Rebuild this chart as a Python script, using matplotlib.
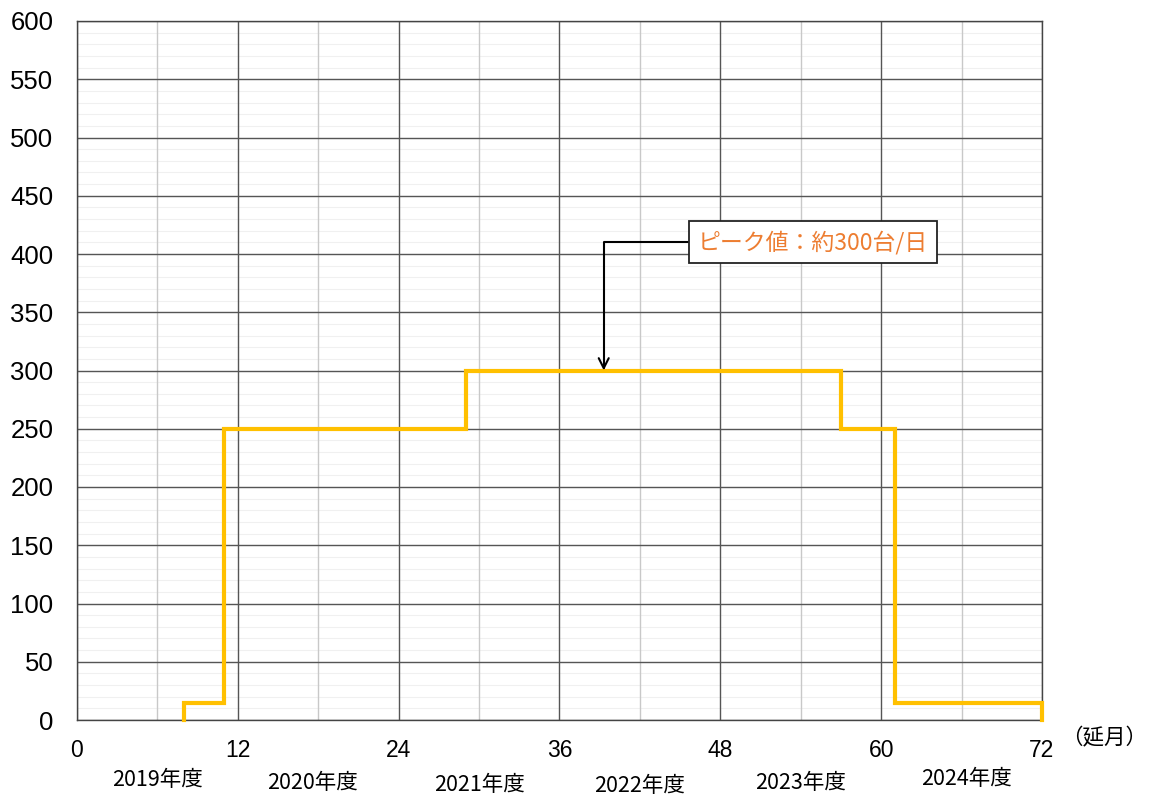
import matplotlib
matplotlib.use("Agg")
import matplotlib.pyplot as plt
import numpy as np
from matplotlib.ticker import MultipleLocator

# Data
step_x = [8, 8, 11, 29, 57, 61, 72, 72]
step_y = [0, 15, 250, 300, 250, 15, 15, 0]
year_labels = ["2019年度", "2020年度", "2021年度", "2022年度", "2023年度", "2024年度"]
year_pos = [6, 17.6, 30, 42, 54, 66.4]
year_dy = [0, 3, 5, 6, 3, -1]
peak_text = "ピーク値：約300台/日"
peak_x = 39.3
peak_y = 300

fig = plt.figure(figsize=(11.5, 7.96), dpi=100)
ax = fig.add_axes([77/1150, 1-720/796, (1042-77)/1150, (720-21)/796])

ax.set_xlim(0, 72)
ax.set_ylim(0, 600)
ax.xaxis.set_major_locator(MultipleLocator(12))
ax.xaxis.set_minor_locator(MultipleLocator(6))
ax.yaxis.set_major_locator(MultipleLocator(50))
ax.grid(which="major", color="#555555", linewidth=1.0)
ax.grid(which="minor", axis="x", color="#c8c8c8", linewidth=1.0)
ax.set_axisbelow(True)
# faint minor horizontal lines beneath everything
ax.hlines(np.arange(10, 600, 10), 0, 72, colors="#f0f0f0", linewidth=0.8, zorder=0.1)
for s in ax.spines.values():
    s.set_color("#444444")
    s.set_linewidth(1.0)
ax.tick_params(which="both", length=0)
ax.tick_params(axis="y", labelsize=18.5, pad=17)
ax.tick_params(axis="x", labelsize=16.5, pad=14)
for lab in ax.get_xticklabels() + ax.get_yticklabels():
    lab.set_fontfamily("Liberation Sans")

ax.step(step_x, step_y, where="post", color="#FFC000", linewidth=3, solid_joinstyle="miter", zorder=3, clip_on=False)

cjk = ["Noto Sans CJK JP", "DejaVu Sans"]
for lab, xp, dy in zip(year_labels, year_pos, year_dy):
    ax.annotate(lab, xy=(xp, 0), xycoords="data", xytext=(0, -60 - dy),
                textcoords="offset pixels", ha="center", va="center",
                fontsize=15.5, family=cjk, annotation_clip=False)

ax.annotate("（延月）", xy=(72, 0), xytext=(62, -18), textcoords="offset pixels",
            ha="center", va="center", fontsize=15.5, family=cjk, annotation_clip=False)

ax.annotate(peak_text, xy=(peak_x, peak_y), xytext=(54.9, 410), textcoords="data",
            ha="center", va="center", fontsize=16.5, family=cjk, color="#ED7D31",
            bbox=dict(boxstyle="square,pad=0.4", fc="white", ec="#222222", lw=1.3),
            arrowprops=dict(arrowstyle="->", color="black", lw=1.5,
                            connectionstyle="angle,angleA=0,angleB=90,rad=0",
                            shrinkA=0, shrinkB=0, mutation_scale=18),
            zorder=5)

fig.savefig("out.png", dpi=100)
